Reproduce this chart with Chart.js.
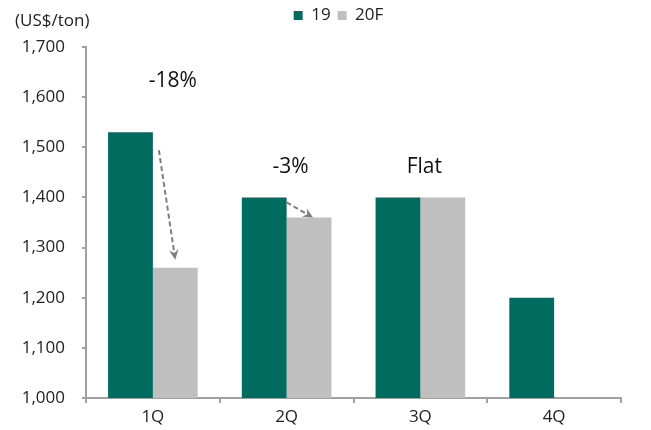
<!DOCTYPE html>
<html>
<head>
<meta charset="utf-8">
<script src="https://cdn.jsdelivr.net/npm/chart.js@4/dist/chart.umd.min.js"></script>
<style>
  body { margin: 0; background: #fff; }
  #wrap { width: 651px; height: 430px; position: relative; }
</style>
</head>
<body>
<div id="wrap"><canvas id="myChart"></canvas></div>
<script>
const quarters = ['1Q', '2Q', '3Q', '4Q'];
const values19 = [1530, 1400, 1400, 1200];
const values20F = [1260, 1360, 1400, null];
const yTicks = [1000, 1100, 1200, 1300, 1400, 1500, 1600, 1700];
// change labels: category index + value height where the text sits
const notes = [
	{ text: '-18%', index: 0, value: 1632, dx: 20 },
	{ text: '-3%', index: 1, value: 1460, dx: 4 },
	{ text: 'Flat', index: 2, value: 1460, dx: 4 }
];
// dashed arrows from the 19 bar to the 20F bar
const arrows = [0, 1];

const FONT = "'Open Sans', 'Noto Sans', sans-serif";
Chart.defaults.font.family = FONT;
Chart.defaults.color = '#222';

// fixed legend band height + nudge it right
const legendBox = {
	id: 'legendBox',
	afterInit(chart) {
		const lg = chart.legend;
		if (!lg) return;
		const fit = lg.fit;
		lg.fit = function () { fit.call(this); this.height = 47; };
	},
	afterLayout(chart) {
		const lg = chart.legend;
		if (!lg) return;
		lg.left += 28;
		lg.right += 28;
	}
};

const notesPlugin = {
	id: 'notes',
	afterDatasetsDraw(chart) {
		const ctx = chart.ctx;
		const x = chart.scales.x, y = chart.scales.y;
		const m19 = chart.getDatasetMeta(0), m20 = chart.getDatasetMeta(1);
		ctx.save();
		ctx.fillStyle = '#111';
		ctx.font = '21px ' + FONT;
		ctx.textAlign = 'center';
		ctx.textBaseline = 'middle';
		notes.forEach(n => {
			ctx.fillText(n.text, x.getPixelForValue(n.index) + n.dx, y.getPixelForValue(n.value));
		});

		ctx.strokeStyle = '#7f7f7f';
		ctx.fillStyle = '#7f7f7f';
		ctx.lineWidth = 2;
		arrows.forEach(i => {
			const a = m19.data[i], b = m20.data[i];
			let x1, y1, x2, y2;
			if (i === 0) {
				x1 = a.x + a.width / 2 + 6; y1 = a.y + 18;
				x2 = b.x; y2 = b.y - 8;
			} else {
				x1 = a.x + a.width / 2; y1 = a.y + 5;
				x2 = b.x + 4; y2 = b.y;
			}
			const ang = Math.atan2(y2 - y1, x2 - x1);
			const hl = 11;
			ctx.setLineDash([5, 3]);
			ctx.beginPath();
			ctx.moveTo(x1, y1);
			ctx.lineTo(x2 - Math.cos(ang) * hl * 0.6, y2 - Math.sin(ang) * hl * 0.6);
			ctx.stroke();
			ctx.setLineDash([]);
			ctx.beginPath();
			ctx.moveTo(x2, y2);
			ctx.lineTo(x2 - hl * Math.cos(ang - 0.45), y2 - hl * Math.sin(ang - 0.45));
			ctx.lineTo(x2 - hl * 0.6 * Math.cos(ang), y2 - hl * 0.6 * Math.sin(ang));
			ctx.lineTo(x2 - hl * Math.cos(ang + 0.45), y2 - hl * Math.sin(ang + 0.45));
			ctx.closePath();
			ctx.fill();
		});

		// unit label
		ctx.fillStyle = '#222';
		ctx.font = '17px ' + FONT;
		ctx.textAlign = 'left';
		ctx.fillText('(US$/ton)', 15, 21);
		ctx.restore();
	}
};

new Chart(document.getElementById('myChart'), {
	type: 'bar',
	data: {
		labels: quarters,
		datasets: [{
			label: '19',
			data: values19,
			backgroundColor: '#006b5f',
			categoryPercentage: 0.67,
			barPercentage: 1
		}, {
			label: '20F',
			data: values20F,
			backgroundColor: '#bfbfbf',
			categoryPercentage: 0.67,
			barPercentage: 1
		}]
	},
	options: {
		responsive: true,
		maintainAspectRatio: false,
		animation: false,
		layout: { padding: { left: 0, right: 30, top: 0, bottom: 0 } },
		plugins: {
			tooltip: { enabled: false },
			legend: {
				position: 'top',
				labels: {
					boxWidth: 9,
					boxHeight: 9,
					padding: 7,
					font: { size: 17 },
					color: '#222'
				}
			}
		},
		scales: {
			x: {
				grid: { display: true, drawOnChartArea: false, drawTicks: true, tickLength: 5, color: '#a0a0a0', lineWidth: 2 },
				border: { color: '#a0a0a0', width: 2 },
				ticks: { font: { size: 17 }, color: '#222', padding: 4 },
				afterFit(scale) { scale.height = 32; }
			},
			y: {
				min: 1000,
				max: 1700,
				afterBuildTicks(scale) { scale.ticks = yTicks.map(v => ({ value: v })); },
				grid: { display: true, drawOnChartArea: false, drawTicks: true, tickLength: 4, color: '#a0a0a0', lineWidth: 2 },
				border: { color: '#a0a0a0', width: 2 },
				ticks: {
					font: { size: 17 },
					color: '#222',
					padding: 17,
					callback: v => v.toLocaleString('en-US')
				},
				afterFit(scale) { scale.width = 86; }
			}
		}
	},
	plugins: [legendBox, notesPlugin]
});
</script>
</body>
</html>
